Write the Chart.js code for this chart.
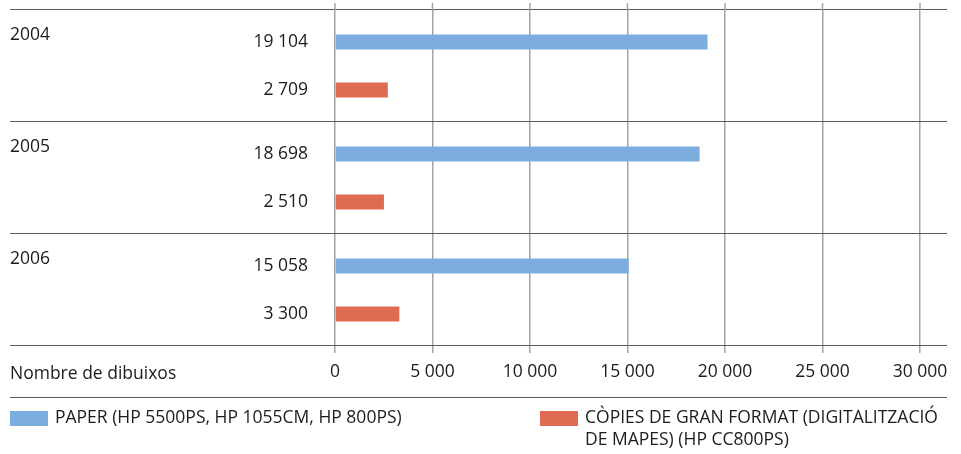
<!DOCTYPE html>
<html>
<head>
<meta charset="utf-8">
<script src="https://cdn.jsdelivr.net/npm/chart.js@4"></script>
<style>
  body { margin: 0; background: #fff; }
  #wrap { width: 961px; height: 454px; }
</style>
</head>
<body>
<div id="wrap"><canvas id="chart" width="961" height="454"></canvas></div>
<script>
// Data
const years = ["2004", "2005", "2006"];
const paper = [19104, 18698, 15058];
const copies = [2709, 2510, 3300];
const seriesNames = [
  "PAPER (HP 5500PS, HP 1055CM, HP 800PS)",
  ["CÒPIES DE GRAN FORMAT (DIGITALITZACIÓ", "DE MAPES) (HP CC800PS)"]
];
const axisTitle = "Nombre de dibuixos";

const FONT = "'Open Sans', sans-serif";
const FSIZE = 17.5;
const TEXT = "#1e1b1c";

// thousands with a space: 19 104
function fmt(v) {
  return String(v).replace(/\B(?=(\d{3})+(?!\d))/g, " ");
}

// Year labels, value labels, separator lines and legend
const decor = {
  id: "decor",
  afterDraw(chart) {
    const ctx = chart.ctx;
    const area = chart.chartArea;
    const y = chart.scales.y;
    const x = chart.scales.x;
    const leftEdge = 10;
    const rightEdge = area.right + 27;
    const band = (y.getPixelForValue(1) - y.getPixelForValue(0));

    ctx.save();
    // separators between the year groups
    ctx.strokeStyle = "#5a5a5a";
    ctx.lineWidth = 1.2;
    for (let i = 0; i <= years.length; i++) {
      const py = Math.round(y.getPixelForValue(0) - band / 2 + i * band) - 0.5;
      ctx.beginPath();
      ctx.moveTo(leftEdge, py);
      ctx.lineTo(rightEdge, py);
      ctx.stroke();
    }
    // line above the legend
    const legendLine = area.bottom + 51;
    ctx.beginPath();
    ctx.moveTo(leftEdge, legendLine + 0.5);
    ctx.lineTo(rightEdge, legendLine + 0.5);
    ctx.stroke();

    // vertical grid peeking above the top separator
    ctx.strokeStyle = "#a3a3a3";
    ctx.lineWidth = 1.5;
    x.ticks.forEach(t => {
      const px = x.getPixelForValue(t.value);
      ctx.beginPath();
      ctx.moveTo(px, area.top - 7);
      ctx.lineTo(px, area.top);
      ctx.stroke();
    });

    // labels
    ctx.fillStyle = TEXT;
    ctx.font = FSIZE + "px " + FONT;
    ctx.textBaseline = "middle";
    chart.data.datasets.forEach((ds, di) => {
      chart.getDatasetMeta(di).data.forEach((bar, i) => {
        ctx.textAlign = "right";
        ctx.fillText(fmt(ds.data[i]), area.left - 27, bar.y);
        if (di === 0) {
          ctx.textAlign = "left";
          ctx.fillText(years[i], leftEdge, bar.y - 7);
        }
      });
    });

    // axis title on the tick row
    ctx.textAlign = "left";
    ctx.fillText(axisTitle, leftEdge, area.bottom + 28);

    // legend
    const ly = legendLine + 21;
    const slots = [leftEdge, 540];
    chart.data.datasets.forEach((ds, di) => {
      const sx = slots[di];
      ctx.fillStyle = ds.backgroundColor;
      ctx.fillRect(sx, ly - 7, 38, 15);
      ctx.fillStyle = TEXT;
      const lines = [].concat(ds.label);
      lines.forEach((ln, k) => ctx.fillText(ln, sx + 45, ly + k * 22));
    });
    ctx.restore();
  }
};

new Chart(document.getElementById("chart"), {
  type: "bar",
  data: {
    labels: years,
    datasets: [{
      label: seriesNames[0],
      data: paper,
      backgroundColor: "#7badde"
    }, {
      label: seriesNames[1],
      data: copies,
      backgroundColor: "#e06b53"
    }]
  },
  options: {
    indexAxis: "y",
    responsive: false,
    animation: false,
    categoryPercentage: 0.86,
    barPercentage: 0.31,
    layout: {
      padding: { left: 335, right: 41, top: 10, bottom: 58 }
    },
    plugins: {
      legend: { display: false },
      tooltip: { enabled: false }
    },
    scales: {
      x: {
        min: 0,
        max: 30000,
        ticks: {
          stepSize: 5000,
          padding: 9,
          color: TEXT,
          font: { family: FONT, size: FSIZE },
          callback: v => fmt(v)
        },
        grid: {
          color: "#a3a3a3",
          lineWidth: 1.5,
          tickLength: 7
        },
        border: { display: false },
        afterFit: s => { s.height = 50; }
      },
      y: {
        display: false
      }
    }
  },
  plugins: [decor]
});
</script>
</body>
</html>
